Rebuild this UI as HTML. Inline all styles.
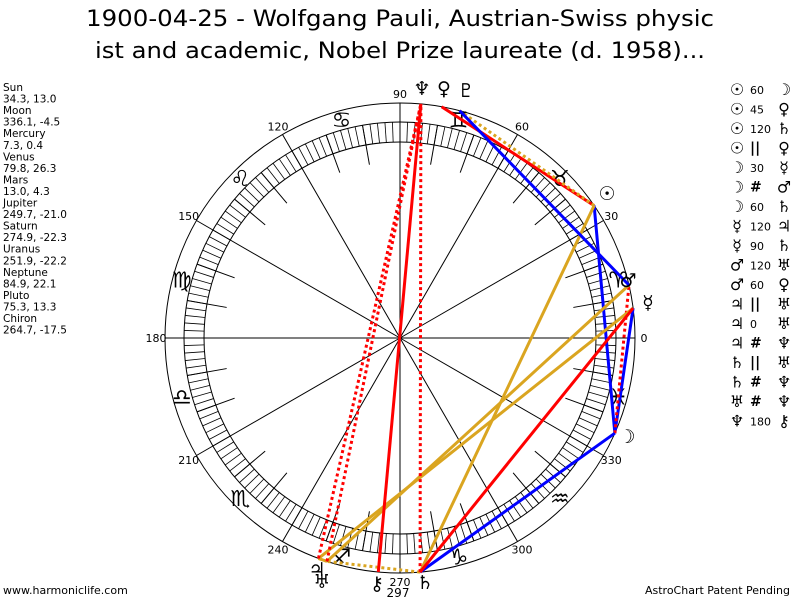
<!DOCTYPE html>
<html><head><meta charset="utf-8"><style>
body{margin:0;background:#fff;width:800px;height:600px;overflow:hidden}
svg{display:block}
text{font-family:"DejaVu Sans","Liberation Sans",sans-serif}
</style></head><body>
<svg id="s" width="800" height="600" xmlns="http://www.w3.org/2000/svg">
<text x="400" y="26" font-size="22" text-anchor="middle" textLength="628" lengthAdjust="spacingAndGlyphs">1900-04-25 - Wolfgang Pauli, Austrian-Swiss physic</text>
<text x="400" y="58" font-size="22" text-anchor="middle" textLength="610" lengthAdjust="spacingAndGlyphs">ist and academic, Nobel Prize laureate (d. 1958)...</text>
<text x="3" y="594" font-size="11">www.harmoniclife.com</text>
<text x="790" y="594" font-size="11" text-anchor="end">AstroChart Patent Pending</text>
<g id="g"></g>
</svg>
<script>
const NS="http://www.w3.org/2000/svg",g=document.getElementById('g');
const cx=400,cy=338;
function el(t,a,txt){const e=document.createElementNS(NS,t);for(const k in a)e.setAttribute(k,a[k]);if(txt!=null)e.textContent=txt;g.appendChild(e);return e;}
function P(d,r){const a=d*Math.PI/180;return[cx+r*Math.cos(a),cy-r*Math.sin(a)];}
el('circle',{cx,cy,r:235,fill:'none',stroke:'#000','stroke-width':1});
el('circle',{cx,cy,r:216,fill:'none',stroke:'#000','stroke-width':1});
el('circle',{cx,cy,r:196,fill:'none',stroke:'#000','stroke-width':1});
for(let d=0;d<360;d+=2){const a=P(d,196),b=P(d,216);el('line',{x1:a[0],y1:a[1],x2:b[0],y2:b[1],stroke:'#000','stroke-width':0.8});}
for(let d=0;d<360;d+=10){if(d%30==0){const b=P(d,235);el('line',{x1:cx,y1:cy,x2:b[0],y2:b[1],stroke:'#000','stroke-width':1});}else{const a=P(d,176),b=P(d,216);el('line',{x1:a[0],y1:a[1],x2:b[0],y2:b[1],stroke:'#000','stroke-width':1});}}
for(let d=0;d<360;d+=30){const p=P(d,244);el('text',{x:p[0],y:p[1]+4,'font-size':11,'text-anchor':'middle'},String(d));}
const signs=['♈','♉','♊','♋','♌','♍','♎','♏','♐','♑','♒','♓'];
signs.forEach((s,i)=>{const p=P(i*30+15,226);el('text',{x:p[0],y:p[1]+8,'font-size':22,'text-anchor':'middle'},s);});
const L={sun:34.3,moon:336.1,mer:7.3,ven:79.8,mar:13.0,jup:249.7,sat:274.9,ura:251.9,nep:84.9,plu:75.3,chi:264.7};
const G={sun:['☉',607,200],moon:['☽',627,443],mer:['☿',648,309],ven:['♀',444,95],mar:['♂',628,287],jup:['♃',317,576],sat:['♄',425,589],ura:['♅',322,588],nep:['♆',422,95],plu:['♇',466,97],chi:['⚷',377,590]};
const asp=[['sun','moon','#0000ff',0],['sun','ven','#ff0000',0],['sun','sat','#daa520',0],['sun','plu','#daa520',1],['moon','mer','#0000ff',0],['moon','mar','#ff0000',1],['moon','sat','#0000ff',0],['mer','jup','#daa520',0],['mer','sat','#ff0000',0],['mar','ura','#daa520',0],['mar','plu','#0000ff',0],['jup','ura','#daa520',1],['jup','ura','#daa520',0],['jup','nep','#ff0000',1],['sat','ura','#daa520',1],['sat','nep','#ff0000',1],['ura','nep','#ff0000',1],['nep','chi','#ff0000',0]];
asp.forEach(a=>{const p=P(L[a[0]],235),q=P(L[a[1]],235);const at={x1:p[0],y1:p[1],x2:q[0],y2:q[1],stroke:a[2],'stroke-width':3};if(a[3])at['stroke-dasharray']='3,3';el('line',at);});
for(const k in G){const [s,x,y]=G[k];el('text',{x,y,'font-size':19,'text-anchor':'middle'},s);}
el('text',{x:398,y:597,'font-size':12,'text-anchor':'middle'},'297');
const left=['Sun','34.3, 13.0','Moon','336.1, -4.5','Mercury','7.3, 0.4','Venus','79.8, 26.3','Mars','13.0, 4.3','Jupiter','249.7, -21.0','Saturn','274.9, -22.3','Uranus','251.9, -22.2','Neptune','84.9, 22.1','Pluto','75.3, 13.3','Chiron','264.7, -17.5'];
left.forEach((t,i)=>el('text',{x:3,y:91+i*11.55,'font-size':10.5},t));
const leg=[['☉','60','☽'],['☉','45','♀'],['☉','120','♄'],['☉','||','♀'],['☽','30','☿'],['☽','‡','♂'],['☽','60','♄'],['☿','120','♃'],['☿','90','♄'],['♂','120','♅'],['♂','60','♀'],['♃','||','♅'],['♃','0','♅'],['♃','‡','♆'],['♄','||','♅'],['♄','‡','♆'],['♅','‡','♆'],['♆','180','⚷']];
leg.forEach((r,i)=>{const y=95+i*19.5;el('text',{x:737,y,'font-size':16,'text-anchor':'middle'},r[0]);
let isSym=(r[1]=='||'||r[1]=='‡');
el('text',{x:750,y:y-1,'font-size':isSym?14:11,'font-weight':isSym?'bold':'normal'},r[1]=='‡'?'#':r[1]);
el('text',{x:784,y,'font-size':16,'text-anchor':'middle'},r[2]);});
</script>
</body></html>
